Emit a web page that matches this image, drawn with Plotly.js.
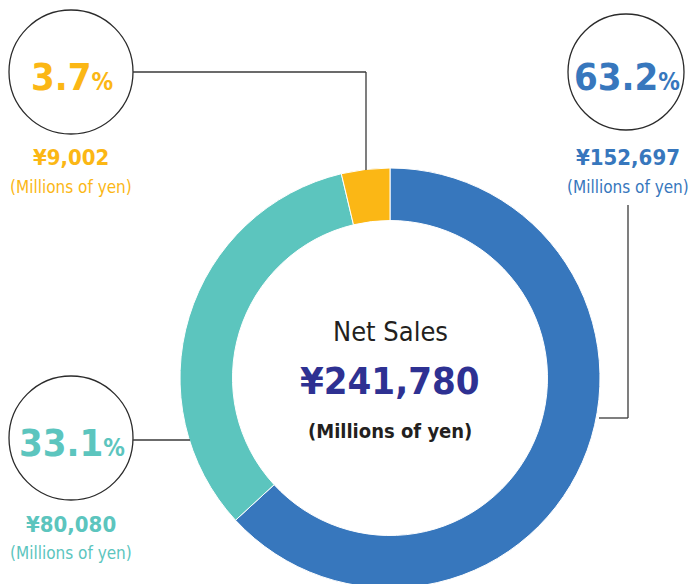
<!DOCTYPE html>
<html><head><meta charset="utf-8">
<script src="https://cdn.plot.ly/plotly-3.0.1.min.js"></script>
<style>html,body{margin:0;padding:0;overflow:hidden;background:#fff}</style>
</head><body><div id="chart"></div>
<script>
const labels = ["Segment A", "Segment B", "Segment C"];
const values = [152697, 80080, 9002];
const colors = ["#3777bd", "#5cc5be", "#fbb715"];
const totalLabel = "¥241,780";
const unitLabel = "(Millions of yen)";
const centerTitle = "Net Sales";

const W = 693, H = 600;
const FONT = "'DejaVu Sans Condensed', 'Liberation Sans Narrow', sans-serif";
const px = x => x / W, py = y => 1 - y / H;
const total = values.reduce((a, b) => a + b, 0);
const pct = values.map(v => (v / total * 100).toFixed(1));
const yen = v => "¥" + v.toLocaleString("en-US");

const callouts = [
  {cx: 626, cy: 72, r: 58, tx: 628},
  {cx: 71, cy: 438, r: 62, tx: 71},
  {cx: 71, cy: 72, r: 62, tx: 71}
];

const annotations = [];
const shapes = [];
callouts.forEach((c, i) => {
  shapes.push({type: "circle", xref: "paper", yref: "paper",
    x0: px(c.cx - c.r), x1: px(c.cx + c.r), y0: py(c.cy + c.r), y1: py(c.cy - c.r),
    line: {color: "#2b2b2b", width: 1.3}, fillcolor: "rgba(0,0,0,0)"});
  annotations.push({xref: "paper", yref: "paper", x: px(c.cx + 1), y: py(c.cy + 5), showarrow: false,
    text: "<b>" + pct[i] + "<span style='font-size:24px'>%</span></b>",
    font: {family: FONT, size: 38, color: colors[i]}, xanchor: "center", yanchor: "middle"});
  annotations.push({xref: "paper", yref: "paper", x: px(c.tx), y: py(c.cy + 86), showarrow: false,
    text: "<b>" + yen(values[i]) + "</b>", font: {family: FONT, size: 22, color: colors[i]},
    xanchor: "center", yanchor: "middle"});
  annotations.push({xref: "paper", yref: "paper", x: px(c.tx), y: py(c.cy + 115), showarrow: false,
    text: unitLabel, font: {family: FONT, size: 17, color: colors[i]},
    xanchor: "center", yanchor: "middle"});
});

const line = {color: "#3a3a3a", width: 1.3};
const seg = (x0, y0, x1, y1) => shapes.push({type: "line", xref: "paper", yref: "paper",
  x0: px(x0), y0: py(y0), x1: px(x1), y1: py(y1), line: line});
seg(133, 72, 366, 72); seg(366, 72, 366, 170);
seg(628, 205, 628, 418); seg(628, 418, 599, 418);
seg(133, 440, 190, 440);

annotations.push({xref: "paper", yref: "paper", x: px(390), y: py(331), showarrow: false,
  text: centerTitle, font: {family: FONT, size: 27, color: "#231f20"}, xanchor: "center", yanchor: "middle"});
annotations.push({xref: "paper", yref: "paper", x: px(390), y: py(381), showarrow: false,
  text: "<b>" + totalLabel + "</b>", font: {family: FONT, size: 38, color: "#2e3192"}, xanchor: "center", yanchor: "middle"});
annotations.push({xref: "paper", yref: "paper", x: px(390), y: py(431), showarrow: false,
  text: "<b>" + unitLabel + "</b>", font: {family: FONT, size: 20, color: "#231f20"}, xanchor: "center", yanchor: "middle"});

const data = [{
  type: "pie", labels: labels, values: values, hole: 0.75, sort: false,
  direction: "clockwise", rotation: 0, textinfo: "none", hoverinfo: "skip",
  marker: {colors: colors, line: {color: "#ffffff", width: 1}},
  domain: {x: [px(180), px(600)], y: [py(588), py(168)]}
}];

const layout = {
  width: W, height: H, margin: {l: 0, r: 0, t: 0, b: 0},
  paper_bgcolor: "#ffffff", plot_bgcolor: "#ffffff", showlegend: false,
  shapes: shapes, annotations: annotations
};
Plotly.newPlot("chart", data, layout, {displayModeBar: false, staticPlot: true});
</script></body></html>
